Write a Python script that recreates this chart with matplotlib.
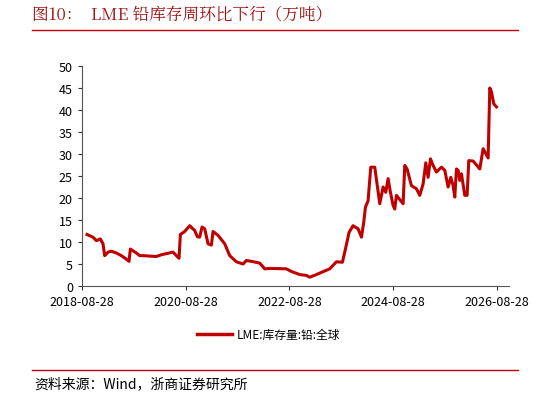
import matplotlib
matplotlib.use("Agg")
import matplotlib.pyplot as plt
from matplotlib.lines import Line2D

plt.rcParams['font.family'] = ['Noto Sans CJK SC', 'DejaVu Sans']

tick_labels = ["2018-08-28", "2020-08-28", "2022-08-28", "2024-08-28", "2026-08-28"]
tick_pos = [0, 2, 4, 6, 8]
# x in years since 2018-08-28 (approx.), inventory in 10k tonnes
px = [52,70,80,92,100,105,115,125,140,155,170,178,182,200,210,220,260,275,310,320,328,332,345,360,375,383,390,397,405,415,425,430,445,465,480,500,520,530,545,570,585,600,650,665,690,710,720,740,755,780,800,818,825,838,850,865,875,882,887,895,903,915,930,940,948,955,962,970,975,980,1000,1005,1012,1025,1040,1050,1060,1068,1075,1082,1090,1100,1115,1125,1135,1143,1150,1155,1160,1165,1170,1175,1185,1192,1197,1210,1230,1240,1255,1260,1265,1272,1280]
years = [(p - 37) / 155.5 for p in px]
values = [11.7,11.1,10.3,10.7,9.6,6.9,7.7,7.9,7.5,6.9,6.1,5.6,8.4,7.5,6.9,6.9,6.7,7.1,7.7,6.9,6.3,11.7,12.4,13.7,12.6,11.2,11.1,13.4,13.0,9.6,9.3,12.4,11.5,9.6,6.9,5.5,5.0,5.8,5.6,5.2,3.9,4.0,3.9,3.3,2.6,2.4,2.0,2.6,3.1,3.9,5.5,5.4,7.7,12.2,13.7,13.0,11.1,14.5,17.9,19.4,27.0,27.0,18.7,22.5,21.3,24.4,21.3,18.3,17.5,20.6,18.7,27.4,26.6,22.8,22.1,20.6,23.2,28.0,24.7,28.9,27.4,25.9,27.0,26.3,22.5,24.7,22.8,20.2,26.6,26.3,24.0,25.5,20.6,20.6,28.5,28.4,26.6,31.2,29.1,45.0,44.1,41.4,40.7]

red = '#C00000'
fig = plt.figure(figsize=(5.48, 4.02), dpi=100)
ax = fig.add_axes([82/548, 1-287/402, (509-82)/548, (287-67)/402])
ax.plot(years, values, color=red, lw=2.2)
ax.set_xlim(0, (509-82)/51.85)
ax.set_ylim(0, 50)
ax.set_yticks(range(0, 51, 5))
ax.set_xticks(tick_pos)
ax.set_xticklabels(tick_labels)
ax.tick_params(labelsize=9, direction='out', length=3, color='#333333')
for s in ['top', 'right']:
    ax.spines[s].set_visible(False)
for s in ['left', 'bottom']:
    ax.spines[s].set_color('#555555')

fig.text(32/548, 1-15/402, "图10：  LME 铅库存周环比下行（万吨）", color='#A01010', fontsize=12,
         va='center', family=['Noto Serif CJK SC', 'Noto Sans CJK SC', 'DejaVu Sans'])
fig.add_artist(Line2D([32/548, 518/548], [1-31/402, 1-31/402], color=red, lw=1))
fig.add_artist(Line2D([197/548, 232/548], [1-335/402, 1-335/402], color=red, lw=2.5))
fig.text(237/548, 1-335/402, "LME:库存量:铅:全球", fontsize=8.5, va='center')
fig.add_artist(Line2D([32/548, 518/548], [1-371/402, 1-371/402], color=red, lw=1))
fig.text(34/548, 1-384/402, "资料来源：Wind，浙商证券研究所", fontsize=10, va='center')
fig.savefig("out.png", dpi=100)
